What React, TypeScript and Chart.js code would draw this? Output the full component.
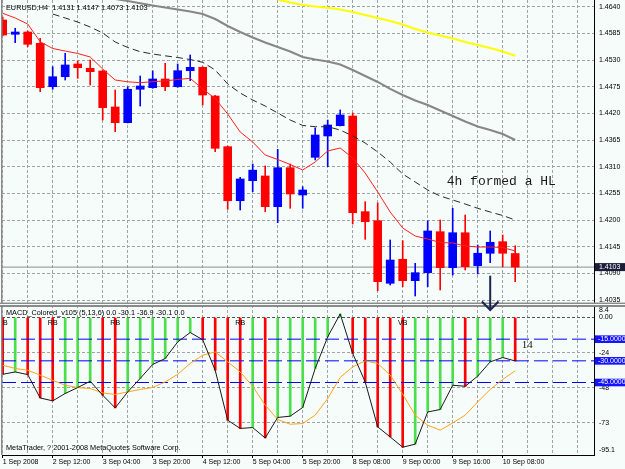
import React, { useEffect, useRef } from 'react';
import { Chart, registerables } from 'chart.js';

Chart.register(...registerables);

// ---------- data (EURUSD H4, 42 bars from 1 Sep 2008 20:00) ----------
const opens = [
  1.46126, 1.45831, 1.45878, 1.45645, 1.4475, 1.44956, 1.45218, 1.4513, 1.45074, 1.44332,
  1.44008, 1.44697, 1.4473, 1.44909, 1.4475, 1.4508, 1.4515, 1.44558, 1.43513, 1.42399,
  1.42812, 1.42909, 1.42276, 1.4308, 1.42517, 1.43294, 1.43734, 1.43946, 1.44146, 1.42173,
  1.41987, 1.40696, 1.41191, 1.4075, 1.40915, 1.4176, 1.41018, 1.41739, 1.41059, 1.41315,
  1.41554, 1.4131,
];
const highs = [
  1.46188, 1.45955, 1.459, 1.45748, 1.45163, 1.45439, 1.4528, 1.45301, 1.45095, 1.44682,
  1.4475, 1.44971, 1.45074, 1.45233, 1.45218, 1.45404, 1.45163, 1.4457, 1.43527, 1.42882,
  1.43156, 1.43115, 1.43459, 1.43156, 1.42688, 1.439, 1.44063, 1.4427, 1.44208, 1.42379,
  1.42352, 1.41589, 1.41575, 1.41108, 1.41987, 1.42001, 1.42243, 1.42104, 1.41486, 1.41775,
  1.41692, 1.4147,
];
const lows = [
  1.45796, 1.45658, 1.45575, 1.44647, 1.44697, 1.44888, 1.44923, 1.44785, 1.44064, 1.43822,
  1.44002, 1.44352, 1.44717, 1.44668, 1.44738, 1.44874, 1.44373, 1.4341, 1.42222, 1.42208,
  1.42585, 1.42173, 1.41946, 1.42243, 1.42243, 1.43239, 1.43101, 1.4394, 1.41919, 1.41603,
  1.40543, 1.40661, 1.40626, 1.40434, 1.40626, 1.40558, 1.40867, 1.4097, 1.40888, 1.41121,
  1.41038, 1.4073,
];
const closes = [
  1.45816, 1.45878, 1.45625, 1.4473, 1.44956, 1.45198, 1.45142, 1.4506, 1.44317, 1.44008,
  1.44697, 1.44765, 1.44909, 1.4475, 1.4508, 1.4515, 1.44579, 1.4348, 1.42399, 1.42847,
  1.43029, 1.42276, 1.4308, 1.42538, 1.4262, 1.43754, 1.4396, 1.44167, 1.42152, 1.41966,
  1.40729, 1.41176, 1.4075, 1.40915, 1.41775, 1.41018, 1.41739, 1.41038, 1.41315, 1.41542,
  1.41315, 1.4103,
];

const maFast = [
  1.46264, 1.46167, 1.46043, 1.45678, 1.45538, 1.45486, 1.45435, 1.45363, 1.45115, 1.44888,
  1.44851, 1.44833, 1.44853, 1.44868, 1.44899, 1.44923, 1.44703, 1.44507, 1.44187, 1.43816,
  1.4361, 1.43342, 1.43249, 1.43146, 1.43032, 1.43197, 1.43424, 1.43486, 1.4328, 1.4297,
  1.42579, 1.42166, 1.41836, 1.41671, 1.41609, 1.41537, 1.41527, 1.41465, 1.41444, 1.41444,
  1.41434, 1.41362,
];
const maMid = [
  null, null, null, null, 1.46249, 1.46167, 1.46084, 1.45981, 1.45858, 1.45672,
  1.45559, 1.45472, 1.45424, 1.45387, 1.45352, 1.45311, 1.45253, 1.45095, 1.44806, 1.4462,
  1.44476, 1.44352, 1.44208, 1.44063, 1.4395, 1.43925, 1.43925, 1.43857, 1.43733, 1.43589,
  1.43404, 1.43197, 1.4295, 1.42785, 1.4262, 1.42496, 1.42414, 1.42331, 1.42242, 1.42166,
  1.42094, 1.42001,
];
const maSlow = [
  null, null, null, null, null, null, null, null, null, 1.46559,
  1.46517, 1.4647, 1.46425, 1.46383, 1.46342, 1.46301, 1.46249, 1.46146, 1.46002, 1.45878,
  1.45765, 1.45662, 1.45569, 1.45476, 1.45363, 1.45311, 1.4527, 1.45208, 1.45095, 1.44971,
  1.44847, 1.44703, 1.44579, 1.44466, 1.44373, 1.44259, 1.44146, 1.44032, 1.43929, 1.43857,
  1.43775, 1.43651,
];
const maLong = [
  null, null, null, null, null, null, null, null, null, null,
  null, null, null, null, null, null, null, null, null, null,
  null, null, 1.46548, 1.46486, 1.46435, 1.46404, 1.46377, 1.46342, 1.46291, 1.46229,
  1.46167, 1.46105, 1.46033, 1.4594, 1.45868, 1.45806, 1.45744, 1.45672, 1.4561, 1.45548,
  1.45476, 1.45389,
];

const macdValues = [
  -39.3, -37.7, -39.5, -55.7, -57.7, -52.6, -48.5, -44.1, -53.8, -62.6,
  -51.5, -42.2, -32.5, -28.4, -16.9, -10.4, -15.4, -36.5, -71.1, -76.8,
  -76.2, -83.4, -69.2, -68.3, -62.3, -35.3, -13.4, 2.5, -24.9, -44.6,
  -75.7, -82.7, -89.8, -87.7, -65.4, -63.7, -46.9, -47.6, -40.6, -30.7,
  -27.7, -30.1,
];
const signalValues = [
  -33.0, -35.3, -36.5, -39.9, -43.5, -46.9, -48.5, -49.2, -52.2, -53.3,
  -51.5, -49.8, -48.5, -44.6, -39.3, -31.8, -26.1, -23.8, -30.7, -37.7,
  -47.6, -60.7, -70.6, -73.9, -73.4, -67.6, -56.1, -41.5, -34.2, -30.0,
  -31.8, -39.9, -53.1, -67.6, -74.6, -78.0, -73.0, -67.6, -58.4, -49.8,
  -42.9, -36.9,
];
const macdLevels = [-15, -30, -45];
const lastPrice = 1.4103;

const priceTicks = [1.4035, 1.409, 1.4145, 1.42, 1.4255, 1.431, 1.4365, 1.442, 1.4475, 1.453, 1.4585, 1.464];
const macdTicks = [0, -24.3, -48.6, -72.9];
const macdTickLabels = ['0.00', '-24', '-48', '-73'];
const macdMaxLabel = '8.4';
const macdMinLabel = '-95.1';
const timeTicks = [0, 2, 4, 6, 8, 10, 12, 14, 16, 18, 20, 22, 24, 26, 28, 30, 32, 34, 36, 38, 40, 42, 44, 46];
const timeLabels: Record<number, string> = {
  0: '1 Sep 2008', 4: '2 Sep 12:00', 8: '3 Sep 04:00', 12: '3 Sep 20:00', 16: '4 Sep 12:00',
  20: '5 Sep 04:00', 24: '5 Sep 20:00', 28: '8 Sep 08:00', 32: '9 Sep 00:00', 36: '9 Sep 16:00',
  40: '10 Sep 08:00',
};
const signalMarkBars = [0, 4, 9, 19, 32];
const signalMarkTexts = ['RB', 'RB', 'RB', 'RB', 'VB'];

const mainTitle = 'EURUSD,H4  1.4131 1.4147 1.4073 1.4103';
const macdTitle = 'MACD_Colored_v105 (5,13,6) 0.0 -30.1 -36.9 -30.1 0.0';
const copyright = 'MetaTrader, ? 2001-2008 MetaQuotes Software Corp.';
const noteText = '4h formed a HL';
const countText = '14';

// ---------- style ----------
const BG = '#f5fcf9';
const GRID = '#9ea4a4';
const RED = '#ff0000';
const BLUE = '#0000ff';
const GREEN = '#4cdf4c';
const SANS = 'Liberation Sans';
const X_MIN = -0.056;
const X_MAX = 47.304;

export default function App() {
  const ref = useRef<HTMLCanvasElement>(null);

  useEffect(() => {
    const canvas = ref.current;
    if (!canvas) return;
    const idx = opens.map((_, i) => i);
    const series = (arr: (number | null)[]) =>
      arr.map((v, i) => (v == null ? null : { x: i, y: v })).filter((p) => p !== null) as { x: number; y: number }[];
    const candleColor = idx.map((i) => (closes[i] >= opens[i] ? BLUE : RED));
    const histColor = idx.map((i) => (i > 0 && macdValues[i] > macdValues[i - 1] ? GREEN : RED));

    const overlay = {
      id: 'mtOverlay',
      beforeDraw(chart: any) {
        const c = chart.ctx;
        c.save();
        c.fillStyle = BG;
        c.fillRect(0, 0, chart.width, chart.height);
        c.restore();
      },
      afterDraw(chart: any) {
        const c = chart.ctx as CanvasRenderingContext2D;
        const xs = chart.scales.x;
        const ys = chart.scales.y;
        const ms = chart.scales.m;
        const area = chart.chartArea;
        c.save();
        // left frame
        c.fillStyle = '#8a8a8a';
        c.fillRect(1, 0, 1.5, area.bottom);
        // separator between panes
        const sep = ys.bottom;
        c.fillStyle = BG;
        c.fillRect(0, sep - 1.3, chart.width, 4);
        c.fillStyle = '#5c5c5c';
        c.fillRect(0, sep - 1.3, chart.width, 1);
        c.fillRect(0, sep + 1.3, chart.width, 1.4);

        c.textBaseline = 'middle';
        c.textAlign = 'left';
        c.fillStyle = '#000';
        c.font = `7.3px "${SANS}"`;
        c.fillText(mainTitle, 6, 7.5);
        c.fillText(macdTitle, 6, 313.3);
        c.fillText(copyright, 6, 448.3);

        // signal marks
        c.save();
        c.beginPath();
        c.rect(area.left + 0.5, area.top, area.right - area.left, area.bottom - area.top);
        c.clip();
        c.textAlign = 'center';
        c.font = `7px "${SANS}"`;
        signalMarkBars.forEach((b, k) => {
          c.fillText(signalMarkTexts[k], xs.getPixelForValue(b), ms.getPixelForValue(0) + 5.3);
        });
        c.restore();

        // note text
        c.fillStyle = '#1a1a1a';
        c.font = `13px "Liberation Mono"`;
        c.textAlign = 'left';
        c.fillText(noteText, xs.getPixelForValue(35.52), ys.getPixelForValue(1.4279));
        c.font = `11px "Liberation Serif"`;
        c.fillText(countText, xs.getPixelForValue(41.52), ms.getPixelForValue(-19.4));

        // arrow
        const ax = xs.getPixelForValue(39);
        const aTop = ys.getPixelForValue(1.4085);
        const aTip = ms.getPixelForValue(5.2);
        c.strokeStyle = '#1c2450';
        c.lineWidth = 2;
        c.beginPath();
        c.moveTo(ax, aTop);
        c.lineTo(ax, aTip);
        c.moveTo(ax - 8.3, aTip - 8.5);
        c.lineTo(ax, aTip);
        c.lineTo(ax + 8.3, aTip - 8.5);
        c.stroke();

        // right-side boxes
        const right = area.right;
        c.font = `7px "${SANS}"`;
        const py = ys.getPixelForValue(lastPrice);
        c.fillStyle = '#1b1d3a';
        c.fillRect(right + 1, py - 4, chart.width - right - 1, 8);
        c.fillStyle = '#fff';
        c.fillText(lastPrice.toFixed(4), right + 5, py);
        macdLevels.forEach((lv) => {
          const ly = ms.getPixelForValue(lv);
          c.fillStyle = '#1212ff';
          c.fillRect(right + 1, ly - 3.8, chart.width - right - 1, 7.6);
          c.fillStyle = '#fff';
          c.fillText(lv.toFixed(4), right + 4, ly);
        });
        c.fillStyle = '#000';
        c.fillText(macdMaxLabel, right + 5, ms.top + 6);
        c.fillText(macdMinLabel, right + 5, ms.bottom - 4.5);
        c.restore();
      },
    };

    const tickFont = { family: SANS, size: 7 };

    const chart = new Chart(canvas, {
      type: 'bar',
      data: {
        datasets: [
          { type: 'line', label: 'MA fast', data: series(maFast), yAxisID: 'y', borderColor: '#ff2020', borderWidth: 1, pointRadius: 0, tension: 0, order: 1 },
          { type: 'line', label: 'MA mid', data: series(maMid), yAxisID: 'y', borderColor: '#2a2a2a', borderWidth: 1, borderDash: [7, 4], pointRadius: 0, tension: 0, order: 2 },
          { type: 'line', label: 'MA slow', data: series(maSlow), yAxisID: 'y', borderColor: '#878787', borderWidth: 2, pointRadius: 0, tension: 0, order: 3 },
          { type: 'line', label: 'MA long', data: series(maLong), yAxisID: 'y', borderColor: '#ffff00', borderWidth: 2, pointRadius: 0, tension: 0, order: 4 },
          { type: 'bar', label: 'Bodies', data: idx.map((i) => ({ x: i, y: [opens[i], closes[i]] })), yAxisID: 'y', backgroundColor: candleColor, borderWidth: 0, barThickness: 8, grouped: false, order: 5 },
          { type: 'bar', label: 'Wicks', data: idx.map((i) => ({ x: i, y: [lows[i], highs[i]] })), yAxisID: 'y', backgroundColor: candleColor, borderWidth: 0, barThickness: 1, grouped: false, order: 6 },
          { type: 'line', label: 'Last', data: [{ x: X_MIN, y: lastPrice }, { x: X_MAX, y: lastPrice }], yAxisID: 'y', borderColor: '#8e8e8e', borderWidth: 1, pointRadius: 0, order: 7 },
          { type: 'line', label: 'MACD', data: series(macdValues), yAxisID: 'm', borderColor: '#1a1a1a', borderWidth: 1, pointRadius: 0, tension: 0, order: 10 },
          { type: 'line', label: 'Signal', data: series(signalValues), yAxisID: 'm', borderColor: '#ffa31a', borderWidth: 1, pointRadius: 0, tension: 0, order: 11 },
          ...macdLevels.map((lv, k) => ({
            type: 'line' as const, label: 'Level ' + lv, data: [{ x: X_MIN, y: lv }, { x: X_MAX, y: lv }], yAxisID: 'm',
            borderColor: '#0000ff', borderWidth: 1, borderDash: [14, 5], pointRadius: 0, order: 12 + k,
          })),
          { type: 'bar', label: 'Histogram', data: series(macdValues), yAxisID: 'm', backgroundColor: histColor, borderWidth: 0, barThickness: 2, grouped: false, order: 20 },
        ] as any,
      },
      options: {
        animation: false,
        responsive: false,
        maintainAspectRatio: false,
        events: [],
        layout: { padding: { left: 2, top: 0, right: 0, bottom: 0 }, autoPadding: false } as any,
        plugins: { legend: { display: false }, tooltip: { enabled: false }, title: { display: false } },
        scales: {
          x: {
            type: 'linear', min: X_MIN, max: X_MAX, offset: false, bounds: 'data', position: 'bottom',
            grid: {
              color: GRID, lineWidth: 1, drawTicks: true, tickLength: 3, offset: false,
              tickColor: (c: any) => (c.tick && timeLabels[c.tick.value] ? '#000' : 'rgba(0,0,0,0)'),
            },
            border: { display: true, color: '#000', width: 1, dash: [3, 2] },
            ticks: {
              autoSkip: false, maxRotation: 0, minRotation: 0, align: 'start', padding: 0, color: '#000', font: tickFont,
              callback: (v: any) => timeLabels[v as number] ?? '',
            },
            afterBuildTicks: (s: any) => { s.ticks = timeTicks.map((v) => ({ value: v })); },
            afterFit: (s: any) => { s.height = 14; s.paddingLeft = 0; s.paddingRight = 0; s.paddingTop = 0; s.paddingBottom = 0; },
          } as any,
          y: {
            type: 'linear', position: 'right', stack: 'panes', stackWeight: 304, weight: 1,
            min: 1.40269, max: 1.46538, bounds: 'data',
            grid: { color: GRID, lineWidth: 1, drawTicks: false },
            border: { display: true, color: '#000', width: 1, dash: [3, 2] },
            ticks: { autoSkip: false, padding: 5, color: '#000', font: tickFont, callback: (v: any) => Number(v).toFixed(4) },
            afterBuildTicks: (s: any) => { s.ticks = priceTicks.map((v) => ({ value: v })); },
            afterFit: (s: any) => { s.width = 31; s.paddingTop = 0; s.paddingBottom = 0; s.paddingLeft = 0; s.paddingRight = 0; },
          } as any,
          m: {
            type: 'linear', position: 'right', stack: 'panes', stackWeight: 151, weight: 2,
            min: -95.19, max: 9.35, bounds: 'data',
            grid: { color: (c: any) => (c.tick && c.tick.value === 0 ? '#555' : GRID), lineWidth: 1, drawTicks: false },
            border: { display: true, color: '#000', width: 1, dash: [3, 2] },
            ticks: {
              autoSkip: false, padding: 5, color: '#000', font: tickFont,
              callback: (v: any) => macdTickLabels[macdTicks.indexOf(v as number)] ?? '',
            },
            afterBuildTicks: (s: any) => { s.ticks = macdTicks.map((v) => ({ value: v })); },
            afterFit: (s: any) => { s.width = 31; s.paddingTop = 0; s.paddingBottom = 0; s.paddingLeft = 0; s.paddingRight = 0; },
          } as any,
        },
      },
      plugins: [overlay],
    });
    return () => chart.destroy();
  }, []);

  return (
    <div style={{ position: 'absolute', left: 0, top: 0, width: 625, height: 469, background: BG }}>
      <canvas ref={ref} width={625} height={469} style={{ display: 'block', width: 625, height: 469 }} />
    </div>
  );
}
